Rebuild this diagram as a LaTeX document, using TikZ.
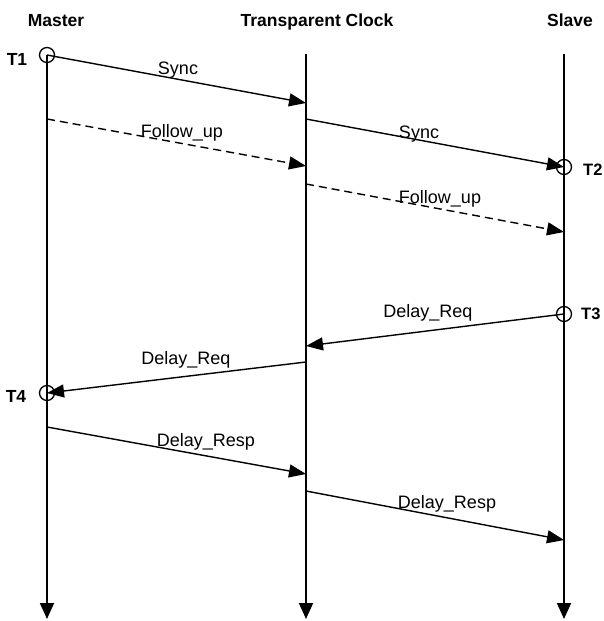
\documentclass[tikz,border=0pt]{standalone}
\usepackage{fontspec}
\setmainfont{Liberation Sans}
\usetikzlibrary{arrows.meta}

\tikzset{
	life/.style={line width=1.8pt, -{Triangle[length=16pt,width=14pt]}},
	msg/.style={line width=1.4pt, -{Triangle[length=17pt,width=13pt]}},
	follow/.style={msg, dash pattern=on 8pt off 5pt},
	stamp/.style={draw, circle, line width=1.3pt, minimum size=15pt, inner sep=0pt},
	lbl/.style={anchor=base, inner sep=0pt, font=\fontsize{18}{21}\selectfont},
	head/.style={anchor=base, inner sep=0pt, font=\fontsize{17.5}{20}\selectfont\bfseries},
}

\begin{document}
\begin{tikzpicture}[x=1pt, y=-1pt]
			%%%%% START %%%%%
			\useasboundingbox (0, 0) rectangle (604, 621);
			
			% lifelines
			\node[head] (master) at (56, 26) {Master};
			\node[head] (clock) at (317, 26) {Transparent Clock};
			\node[head] (slave) at (570, 26) {Slave};
			
			\coordinate (mtop) at (47, 55);
			\coordinate (mbot) at (47, 619);
			\coordinate (ctop) at (306, 54);
			\coordinate (cbot) at (306, 619);
			\coordinate (stop) at (564, 54);
			\coordinate (sbot) at (564, 619);
			
			\draw[life] (mtop) -- (mbot);
			\draw[life] (ctop) -- (cbot);
			\draw[life] (stop) -- (sbot);
			
			% time stamps
			\coordinate (t1) at (47, 55);
			\coordinate (t2) at (564, 167);
			\coordinate (t3) at (564, 314);
			\coordinate (t4) at (47, 393);
			
			\node[stamp] (c1) at (t1) {};
			\node[stamp] (c2) at (t2) {};
			\node[stamp] (c3) at (t3) {};
			\node[stamp] (c4) at (t4) {};
			
			\node[head] (l1) at (17, 65) {T1};
			\node[head, anchor=base west, font=\fontsize{16.5}{20}\selectfont\bfseries] (l2) at (583, 175) {T2};
			\node[head, anchor=base west, font=\fontsize{16.5}{20}\selectfont\bfseries] (l3) at (581, 319) {T3};
			\node[head] (l4) at (16, 402) {T4};
			
			% sync and follow up
			\coordinate (sync1) at (306, 103);
			\coordinate (sync2) at (306, 119);
			\draw[msg] (t1) -- (sync1);
			\draw[msg] (sync2) -- (t2);
			\node[lbl] (s1) at (178, 74) {Sync};
			\node[lbl] (s2) at (419, 138) {Sync};
			
			\coordinate (fu0) at (47, 119);
			\coordinate (fu1) at (306, 166);
			\coordinate (fu2) at (306, 184);
			\coordinate (fu3) at (564, 232);
			\draw[follow] (fu0) -- (fu1);
			\draw[follow] (fu2) -- (fu3);
			\node[lbl] (f1) at (182, 137) {Follow\_up};
			\node[lbl] (f2) at (440, 203) {Follow\_up};
			
			% delay request
			\coordinate (dq1) at (306, 346);
			\coordinate (dq2) at (306, 362);
			\draw[msg] (t3) -- (dq1);
			\draw[msg] (dq2) -- (t4);
			\node[lbl] (q1) at (428, 317) {Delay\_Req};
			\node[lbl] (q2) at (186, 364) {Delay\_Req};
			
			% delay response
			\coordinate (dr0) at (47, 427);
			\coordinate (dr1) at (306, 474);
			\coordinate (dr2) at (306, 491);
			\coordinate (dr3) at (564, 540);
			\draw[msg] (dr0) -- (dr1);
			\draw[msg] (dr2) -- (dr3);
			\node[lbl] (r1) at (206, 446) {Delay\_Resp};
			\node[lbl] (r2) at (447, 508) {Delay\_Resp};
			
			%%%%% END %%%%%
\end{tikzpicture}
\end{document}
